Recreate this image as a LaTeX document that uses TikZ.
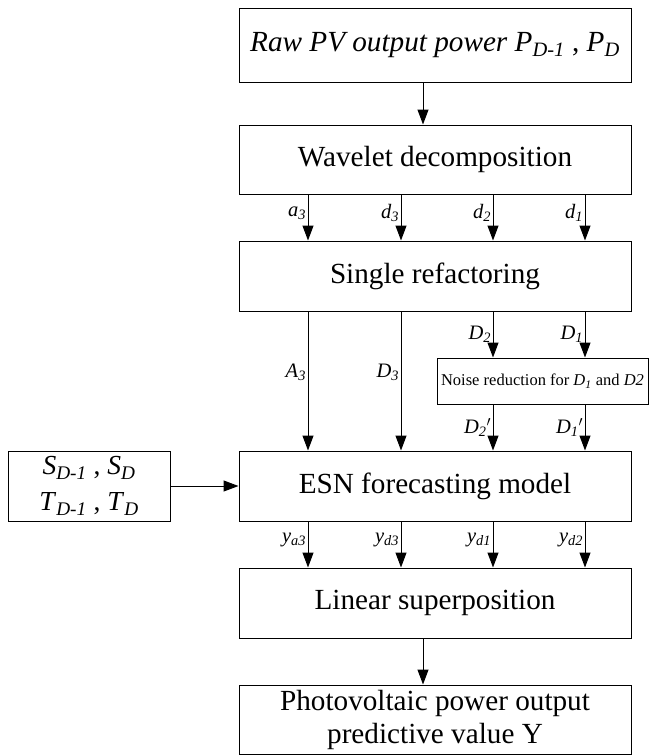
\documentclass[tikz,border=0pt]{standalone}
\usepackage{fontspec}
\setmainfont{Liberation Serif}
\usetikzlibrary{arrows.meta}
\newcommand{\vsub}[2]{\textit{#1}\textsubscript{\textit{#2}}}

\begin{document}
\begin{tikzpicture}[x=1pt,y=-1pt,
	box/.style={draw, line width=1pt, minimum width=392pt, minimum height=70pt, inner sep=0pt, align=center, font=\fontsize{29.2}{33}\selectfont},
	arr/.style={line width=1pt, -{Triangle[length=15pt,width=11pt]}},
	lbl/.style={left, inner sep=1.5pt, font=\fontsize{20.5}{23}\selectfont}]
				\useasboundingbox (0,0) rectangle (649,755);
				\node[box, minimum height=74pt] (raw) at (435,45) {\textit{Raw PV output power} \vsub{P}{D-1} , \vsub{P}{D}};
				\node[box, minimum height=69pt] (wav) at (435,159.5) {Wavelet decomposition};
				\node[box] (ref) at (435,276) {Single refactoring};
				\node[box, minimum width=211pt, minimum height=46pt, font=\fontsize{16.5}{19}\selectfont] (noise) at (542.5,381) {Noise reduction for \vsub{D}{1} and \textit{D2}};
				\node[box] (esn) at (435,486) {ESN forecasting model};
				\node[box, minimum width=162pt, font=\fontsize{27.5}{36}\selectfont] (inp) at (89,486) {\vsub{S}{D-1} , \vsub{S}{D}\\\vsub{T}{D-1} , \vsub{T}{D}};
				\node[box] (lin) at (435,603) {Linear superposition};
				\node[box, minimum height=69pt] (out) at (435,719.5) {Photovoltaic power output\\predictive value Y};
				\draw[arr] (raw.south -| 423,0) -- (wav.north -| 423,0);
				\foreach \x/\l/\s in {308/a/3, 401/d/3, 493/d/2, 585/d/1}
					\draw[arr] (wav.south -| \x,0) -- node[lbl, pos=0.4] {\vsub{\l}{\s}} (ref.north -| \x,0);
				\draw[arr] (ref.south -| 308,0) -- node[lbl, pos=0.44] {\vsub{A}{3}} (esn.north -| 308,0);
				\draw[arr] (ref.south -| 401,0) -- node[lbl, pos=0.44] {\vsub{D}{3}} (esn.north -| 401,0);
				\draw[arr] (ref.south -| 493,0) -- node[lbl, midway] {\vsub{D}{2}} (noise.north -| 493,0);
				\draw[arr] (ref.south -| 585,0) -- node[lbl, midway] {\vsub{D}{1}} (noise.north -| 585,0);
				\draw[arr] (noise.south -| 493,0) -- node[lbl, pos=0.5] {\vsub{D}{2}$'$} (esn.north -| 493,0);
				\draw[arr] (noise.south -| 585,0) -- node[lbl, pos=0.5] {\vsub{D}{1}$'$} (esn.north -| 585,0);
				\draw[arr] (inp.east) -- (esn.west);
				\foreach \x/\s in {308/a3, 401/d3, 493/d1, 585/d2}
					\draw[arr] (esn.south -| \x,0) -- node[lbl, pos=0.4] {\vsub{y}{\s}} (lin.north -| \x,0);
				\draw[arr] (lin.south -| 423,0) -- (out.north -| 423,0);
			\end{tikzpicture}
\end{document}
